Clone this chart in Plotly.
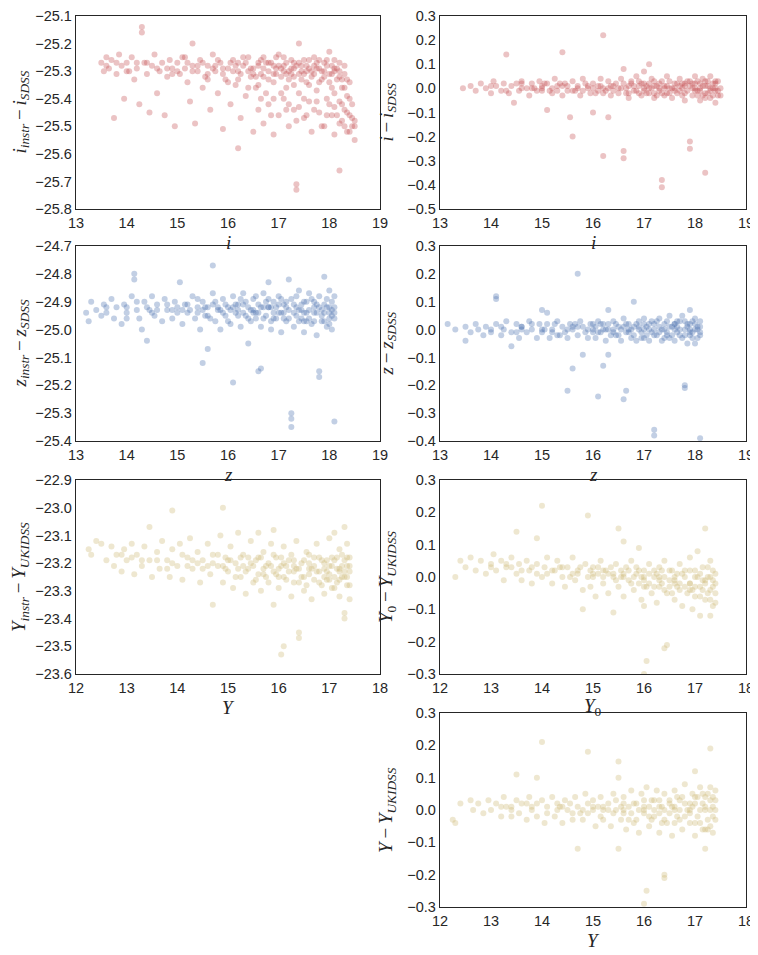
import plotly.graph_objects as go

# the page keeps its 8px body margin, so the figure starts 8px in
PAGE_W, PAGE_H, PAD = 758, 955, 8
W, H = PAGE_W - PAD, PAGE_H - PAD

# (magnitude, offset) pairs
i_instr_pts = [
    (13.5, -25.27), (13.55, -25.30), (13.6, -25.25), (13.65, -25.29), (13.7, -25.26), (13.75, -25.47),
    (13.8, -25.31), (13.85, -25.24), (13.9, -25.28), (13.95, -25.40), (14.0, -25.27), (14.05, -25.30),
    (14.1, -25.25), (14.15, -25.33), (14.2, -25.29), (14.25, -25.42), (14.3, -25.14), (14.3, -25.16),
    (14.35, -25.27), (14.4, -25.31), (14.45, -25.45), (14.5, -25.28), (14.55, -25.24), (14.6, -25.38),
    (14.65, -25.30), (14.7, -25.27), (14.75, -25.46), (14.8, -25.32), (14.85, -25.26), (14.9, -25.29),
    (14.95, -25.50), (15.0, -25.27), (15.05, -25.31), (15.1, -25.25), (15.15, -25.29), (15.2, -25.34),
    (15.25, -25.41), (15.3, -25.20), (15.3, -25.28), (15.35, -25.49), (15.4, -25.30), (15.45, -25.26),
    (15.5, -25.36), (15.55, -25.32), (15.6, -25.28), (15.65, -25.44), (15.7, -25.24), (15.75, -25.30),
    (15.8, -25.38), (15.85, -25.27), (15.9, -25.51), (15.95, -25.33), (16.0, -25.29), (16.05, -25.42),
    (16.1, -25.26), (16.15, -25.35), (16.2, -25.58), (16.2, -25.30), (16.25, -25.47), (16.3, -25.28),
    (16.35, -25.39), (16.4, -25.25), (16.45, -25.32), (16.5, -25.52), (16.5, -25.29), (16.55, -25.36),
    (16.6, -25.27), (16.6, -25.44), (16.65, -25.31), (16.7, -25.49), (16.7, -25.25), (16.75, -25.38),
    (16.8, -25.30), (16.8, -25.42), (16.85, -25.27), (16.9, -25.34), (16.9, -25.53), (16.95, -25.29),
    (17.0, -25.46), (17.0, -25.24), (17.05, -25.32), (17.1, -25.40), (17.1, -25.28), (17.15, -25.36),
    (17.2, -25.30), (17.2, -25.50), (17.25, -25.26), (17.3, -25.44), (17.3, -25.32), (17.35, -25.71),
    (17.35, -25.73), (17.35, -25.28), (17.4, -25.20), (17.4, -25.38), (17.45, -25.30), (17.5, -25.47),
    (17.5, -25.26), (17.55, -25.34), (17.6, -25.41), (17.6, -25.29), (17.65, -25.52), (17.7, -25.31),
    (17.7, -25.25), (17.75, -25.37), (17.8, -25.45), (17.8, -25.29), (17.85, -25.33), (17.9, -25.50),
    (17.9, -25.27), (17.95, -25.40), (18.0, -25.31), (18.0, -25.23), (18.05, -25.36), (18.05, -25.46),
    (18.1, -25.29), (18.1, -25.53), (18.15, -25.33), (18.2, -25.66), (18.2, -25.41), (18.2, -25.27),
    (18.25, -25.36), (18.25, -25.48), (18.3, -25.31), (18.3, -25.44), (18.35, -25.52), (18.35, -25.39),
    (18.4, -25.46), (18.4, -25.34), (18.45, -25.50), (18.45, -25.42), (18.5, -25.48), (18.5, -25.55),
    (13.6, -25.28), (14.0, -25.30), (14.4, -25.27), (14.8, -25.29), (15.2, -25.27), (15.6, -25.31),
    (15.9, -25.29), (16.2, -25.27), (16.4, -25.30), (16.7, -25.32), (16.9, -25.28), (17.1, -25.30),
    (17.3, -25.29), (17.5, -25.31), (17.7, -25.28), (17.9, -25.32), (18.1, -25.30), (18.3, -25.28),
    (15.5, -25.27), (15.6, -25.33), (15.7, -25.29), (15.8, -25.26), (15.9, -25.31), (16.0, -25.34),
    (16.1, -25.30), (16.2, -25.33), (16.3, -25.25), (16.4, -25.36), (16.5, -25.31), (16.6, -25.28),
    (16.65, -25.40), (16.75, -25.27), (16.8, -25.33), (16.85, -25.46), (16.95, -25.31), (17.0, -25.28),
    (17.05, -25.38), (17.1, -25.25), (17.15, -25.31), (17.2, -25.42), (17.25, -25.29), (17.3, -25.35),
    (17.35, -25.48), (17.4, -25.27), (17.45, -25.33), (17.5, -25.40), (17.55, -25.28), (17.6, -25.35),
    (17.65, -25.30), (17.7, -25.44), (17.75, -25.27), (17.8, -25.34), (17.85, -25.50), (17.9, -25.30),
    (17.95, -25.26), (18.0, -25.42), (18.0, -25.34), (18.05, -25.28), (18.1, -25.38), (18.15, -25.46),
    (18.15, -25.29), (18.2, -25.32), (18.25, -25.42), (18.3, -25.36), (18.3, -25.50), (18.35, -25.45),
    (18.4, -25.40), (18.4, -25.52), (18.45, -25.47), (18.5, -25.50), (14.2, -25.27), (14.6, -25.29),
    (15.0, -25.30), (15.4, -25.28), (13.8, -25.27), (14.9, -25.31), (15.15, -25.25), (16.05, -25.27),
    (16.15, -25.28), (16.25, -25.31), (16.35, -25.27), (16.45, -25.29), (16.55, -25.32), (16.65, -25.26),
    (16.7, -25.29), (16.8, -25.27), (16.9, -25.31), (16.95, -25.25), (17.05, -25.29), (17.15, -25.27),
    (17.2, -25.33), (17.25, -25.31), (17.3, -25.27), (17.4, -25.31), (17.45, -25.28), (17.55, -25.30),
    (17.6, -25.26), (17.65, -25.32), (17.75, -25.29), (17.8, -25.26), (17.85, -25.30), (17.95, -25.28),
    (18.05, -25.31), (18.1, -25.26), (18.2, -25.30), (18.25, -25.33), (17.15, -25.44), (17.4, -25.43),
    (17.55, -25.46), (17.75, -25.41), (17.95, -25.46), (18.1, -25.43), (18.2, -25.49), (18.35, -25.33),
    (16.6, -25.35), (16.9, -25.40), (15.3, -25.30), (15.75, -25.28),
]

i_resid_pts = [
    (13.45, 0.00), (13.6, 0.01), (13.7, -0.01), (13.8, 0.02), (13.9, 0.00), (14.0, -0.02), (14.05, 0.03),
    (14.1, 0.01), (14.2, -0.01), (14.25, 0.02), (14.3, 0.14), (14.35, -0.02), (14.4, 0.01), (14.45, -0.06),
    (14.5, 0.02), (14.55, -0.01), (14.6, 0.03), (14.7, 0.00), (14.75, -0.03), (14.8, 0.02), (14.9, -0.01),
    (14.95, 0.03), (15.0, 0.00), (15.1, -0.09), (15.1, 0.02), (15.2, -0.02), (15.25, 0.04), (15.3, 0.01),
    (15.4, 0.15), (15.4, -0.03), (15.45, 0.02), (15.5, -0.01), (15.55, -0.12), (15.6, 0.03), (15.6, -0.20),
    (15.7, 0.00), (15.75, -0.03), (15.8, 0.04), (15.9, 0.01), (15.95, -0.02), (16.0, -0.10), (16.0, 0.02),
    (16.1, -0.01), (16.15, 0.04), (16.2, 0.22), (16.2, -0.28), (16.2, 0.00), (16.3, -0.12), (16.3, 0.03),
    (16.35, -0.03), (16.4, 0.01), (16.5, -0.02), (16.55, 0.04), (16.6, 0.08), (16.6, -0.26), (16.6, -0.29),
    (16.65, 0.00), (16.7, -0.04), (16.75, 0.02), (16.8, -0.01), (16.85, 0.05), (16.9, 0.01), (16.95, -0.03),
    (17.0, 0.07), (17.0, 0.02), (17.05, -0.02), (17.1, 0.10), (17.1, 0.00), (17.15, 0.04), (17.2, -0.04),
    (17.25, 0.01), (17.3, -0.01), (17.35, -0.38), (17.35, -0.41), (17.35, 0.03), (17.4, -0.03), (17.45, 0.05),
    (17.5, 0.00), (17.55, -0.04), (17.6, 0.02), (17.65, -0.02), (17.7, 0.04), (17.75, 0.00), (17.8, -0.05),
    (17.85, 0.03), (17.9, -0.22), (17.9, -0.25), (17.9, 0.01), (17.95, -0.03), (18.0, 0.05), (18.05, -0.01),
    (18.1, 0.02), (18.1, -0.05), (18.15, 0.04), (18.2, -0.35), (18.2, -0.02), (18.25, 0.01), (18.3, 0.05),
    (18.3, -0.04), (18.35, 0.02), (18.4, -0.01), (18.4, -0.06), (18.45, 0.03), (18.5, 0.00),
    (14.6, 0.00), (15.0, 0.01), (15.3, -0.01), (15.7, 0.01), (16.0, 0.00), (16.4, -0.01), (16.7, 0.01),
    (17.0, -0.01), (17.2, 0.01), (17.4, 0.00), (17.6, -0.01), (17.8, 0.01), (18.0, -0.01), (18.2, 0.01),
    (18.4, 0.00),
    (14.0, 0.01), (14.3, -0.01), (14.6, 0.02), (14.85, 0.00), (15.05, 0.02), (15.15, -0.01), (15.35, 0.02),
    (15.5, 0.01), (15.65, -0.01), (15.85, 0.02), (16.05, -0.02), (16.15, 0.01), (16.25, -0.01), (16.45, 0.02),
    (16.55, 0.00), (16.65, -0.02), (16.75, 0.03), (16.85, -0.01), (16.95, 0.02), (17.05, 0.01), (17.1, -0.02),
    (17.15, 0.00), (17.25, -0.03), (17.3, 0.02), (17.4, 0.01), (17.45, -0.02), (17.5, 0.03), (17.55, 0.00),
    (17.65, 0.02), (17.7, -0.01), (17.75, -0.03), (17.8, 0.02), (17.85, -0.01), (17.95, 0.02), (18.0, 0.00),
    (18.05, 0.03), (18.1, -0.01), (18.15, -0.03), (18.2, 0.03), (18.25, -0.02), (18.3, 0.00), (18.35, -0.03),
    (18.4, 0.03), (18.45, -0.01), (18.5, -0.03), (17.2, 0.03), (16.9, -0.02), (16.3, 0.00), (15.8, -0.01),
    (15.2, 0.00),
    (15.9, 0.00), (16.1, 0.01), (16.2, -0.02), (16.35, 0.01), (16.5, 0.00), (16.6, 0.02), (16.7, -0.02),
    (16.8, 0.01), (16.9, 0.03), (17.0, 0.00), (17.1, 0.02), (17.2, -0.02), (17.3, 0.00), (17.35, -0.02),
    (17.45, 0.01), (17.5, -0.02), (17.6, 0.00), (17.7, 0.01), (17.75, 0.02), (17.8, -0.02), (17.9, 0.03),
    (17.95, 0.00), (18.0, 0.02), (18.05, -0.03), (18.1, 0.00), (18.15, 0.01), (18.2, -0.04), (18.25, 0.03),
    (18.3, -0.01), (18.35, 0.00), (18.4, 0.02), (18.45, -0.03), (15.0, -0.01), (15.4, 0.01), (14.8, 0.00),
    (15.6, -0.01),
]

z_instr_pts = [
    (13.2, -24.94), (13.25, -24.97), (13.3, -24.90), (13.4, -24.93), (13.5, -24.95), (13.55, -24.91),
    (13.6, -24.94), (13.7, -24.89), (13.75, -24.96), (13.8, -24.92), (13.9, -24.98), (13.95, -24.91),
    (14.0, -24.94), (14.1, -24.88), (14.15, -24.80), (14.15, -24.82), (14.2, -24.93), (14.25, -24.96),
    (14.3, -25.00), (14.35, -24.90), (14.4, -25.04), (14.45, -24.93), (14.5, -24.88), (14.55, -24.95),
    (14.6, -24.91), (14.7, -24.97), (14.75, -24.89), (14.8, -24.93), (14.9, -24.96), (14.95, -24.90),
    (15.0, -24.94), (15.05, -24.83), (15.1, -24.98), (15.15, -24.91), (15.2, -24.94), (15.3, -24.88),
    (15.35, -24.96), (15.4, -24.92), (15.45, -25.00), (15.5, -25.12), (15.5, -24.90), (15.55, -24.95),
    (15.6, -25.07), (15.6, -24.92), (15.7, -24.77), (15.7, -24.87), (15.75, -24.97), (15.8, -24.93),
    (15.85, -25.00), (15.9, -24.89), (15.95, -24.95), (16.0, -24.92), (16.05, -24.98), (16.1, -25.19),
    (16.1, -24.88), (16.15, -24.94), (16.2, -24.91), (16.25, -24.99), (16.3, -24.87), (16.35, -24.95),
    (16.4, -25.05), (16.4, -24.92), (16.45, -24.97), (16.5, -24.89), (16.55, -24.94), (16.6, -25.15),
    (16.6, -24.91), (16.65, -25.14), (16.65, -24.99), (16.7, -24.87), (16.75, -24.95), (16.8, -24.83),
    (16.8, -24.92), (16.85, -25.00), (16.9, -24.90), (16.95, -24.96), (17.0, -24.88), (17.0, -24.94),
    (17.05, -25.01), (17.1, -24.91), (17.15, -24.97), (17.2, -24.82), (17.2, -24.93), (17.25, -25.30),
    (17.25, -25.32), (17.25, -25.35), (17.25, -24.89), (17.3, -24.99), (17.35, -24.92), (17.4, -24.86),
    (17.45, -24.96), (17.5, -24.90), (17.5, -25.01), (17.55, -24.94), (17.6, -24.87), (17.65, -24.98),
    (17.7, -24.92), (17.75, -25.02), (17.8, -25.15), (17.8, -25.17), (17.8, -24.88), (17.85, -24.95),
    (17.9, -24.81), (17.9, -24.91), (17.95, -24.99), (18.0, -24.86), (18.0, -24.94), (18.05, -25.00),
    (18.05, -24.90), (18.1, -25.33), (18.1, -24.96), (18.1, -24.88),
    (14.0, -24.92), (14.6, -24.93), (15.0, -24.92), (15.4, -24.94), (15.8, -24.92), (16.2, -24.93),
    (16.5, -24.94), (16.8, -24.92), (17.1, -24.94), (17.4, -24.93), (17.7, -24.94), (18.0, -24.92),
    (15.25, -24.93), (15.4, -24.89), (15.55, -24.92), (15.65, -24.96), (15.75, -24.90), (15.9, -24.94),
    (16.0, -24.97), (16.1, -24.92), (16.2, -24.95), (16.3, -24.91), (16.4, -24.96), (16.5, -24.93),
    (16.55, -24.88), (16.65, -24.92), (16.7, -24.96), (16.8, -24.89), (16.9, -24.94), (16.95, -24.92),
    (17.05, -24.89), (17.1, -24.96), (17.15, -24.92), (17.3, -24.94), (17.35, -24.88), (17.4, -24.97),
    (17.45, -24.91), (17.55, -24.97), (17.6, -24.93), (17.65, -24.89), (17.7, -24.97), (17.75, -24.91),
    (17.85, -24.93), (17.9, -24.97), (17.95, -24.89), (18.0, -24.98), (18.05, -24.93), (18.1, -24.92),
    (14.2, -24.90), (14.5, -24.94), (14.8, -24.91), (15.1, -24.93), (14.0, -24.96), (13.6, -24.92),
    (16.25, -24.89), (16.85, -24.97), (17.5, -24.94),
    (15.5, -24.93), (15.6, -24.95), (15.7, -24.91), (15.85, -24.93), (15.95, -24.91), (16.05, -24.93),
    (16.15, -24.91), (16.3, -24.94), (16.35, -24.90), (16.45, -24.93), (16.55, -24.96), (16.6, -24.94),
    (16.7, -24.92), (16.75, -24.90), (16.85, -24.92), (16.9, -24.96), (17.0, -24.91), (17.05, -24.94),
    (17.15, -24.90), (17.2, -24.96), (17.3, -24.91), (17.35, -24.95), (17.45, -24.93), (17.5, -24.97),
    (17.55, -24.90), (17.6, -24.96), (17.7, -24.90), (17.75, -24.94), (17.8, -24.92), (17.85, -24.97),
    (17.9, -24.94), (17.95, -24.92), (18.0, -24.96), (18.05, -24.95), (18.1, -24.94), (14.4, -24.92),
    (14.9, -24.93), (15.2, -24.91),
]

z_resid_pts = [
    (13.15, 0.02), (13.3, 0.00), (13.5, 0.01), (13.5, -0.04), (13.6, -0.01), (13.7, 0.02), (13.75, 0.00),
    (13.85, -0.02), (13.9, 0.01), (14.0, -0.01), (14.1, 0.11), (14.1, 0.12), (14.1, 0.02), (14.2, -0.02),
    (14.25, 0.00), (14.3, 0.03), (14.4, -0.06), (14.4, -0.01), (14.5, 0.02), (14.55, -0.03), (14.6, 0.01),
    (14.7, -0.01), (14.75, 0.03), (14.8, 0.00), (14.9, -0.03), (14.95, 0.02), (15.0, 0.07), (15.0, -0.01),
    (15.1, 0.06), (15.1, 0.02), (15.15, -0.03), (15.2, 0.00), (15.3, 0.03), (15.35, -0.02), (15.4, 0.01),
    (15.5, -0.22), (15.5, -0.03), (15.55, 0.02), (15.6, -0.14), (15.6, 0.00), (15.7, 0.20), (15.7, -0.02),
    (15.75, 0.03), (15.8, -0.09), (15.8, 0.01), (15.9, -0.03), (15.95, 0.02), (16.0, 0.00), (16.05, -0.03),
    (16.1, -0.24), (16.1, 0.03), (16.15, -0.01), (16.2, -0.13), (16.2, 0.02), (16.25, -0.04), (16.3, 0.07),
    (16.3, -0.09), (16.3, 0.00), (16.4, 0.03), (16.45, -0.02), (16.5, 0.01), (16.55, -0.04), (16.6, -0.25),
    (16.6, 0.04), (16.65, -0.22), (16.65, -0.01), (16.7, 0.02), (16.75, -0.03), (16.8, 0.10), (16.8, 0.01),
    (16.85, -0.04), (16.9, 0.03), (16.95, -0.01), (17.0, 0.04), (17.0, -0.03), (17.05, 0.01), (17.1, -0.04),
    (17.15, 0.03), (17.2, -0.36), (17.2, -0.38), (17.2, 0.00), (17.25, -0.02), (17.3, 0.04), (17.35, -0.04),
    (17.4, 0.02), (17.45, -0.01), (17.5, 0.05), (17.5, -0.03), (17.55, 0.01), (17.6, -0.04), (17.65, 0.03),
    (17.7, -0.02), (17.75, 0.05), (17.8, -0.20), (17.8, -0.21), (17.8, 0.00), (17.85, -0.05), (17.9, 0.07),
    (17.9, 0.02), (17.95, -0.03), (18.0, 0.04), (18.0, -0.05), (18.05, 0.01), (18.1, -0.39), (18.1, -0.02),
    (18.1, 0.03),
    (14.0, 0.00), (14.6, 0.00), (15.2, -0.01), (15.6, 0.01), (16.0, -0.01), (16.4, 0.00), (16.7, -0.01),
    (17.0, 0.00), (17.3, 0.01), (17.6, 0.00), (17.9, -0.01),
    (14.2, 0.01), (14.5, -0.01), (14.8, 0.02), (15.05, 0.00), (15.25, 0.02), (15.45, -0.01), (15.65, 0.02),
    (15.85, -0.01), (16.05, 0.01), (16.15, 0.02), (16.25, 0.00), (16.35, -0.02), (16.45, 0.02), (16.55, 0.00),
    (16.65, 0.02), (16.75, 0.00), (16.85, 0.02), (16.95, -0.03), (17.05, -0.02), (17.1, 0.02), (17.15, -0.01),
    (17.25, 0.03), (17.35, 0.00), (17.4, -0.03), (17.45, 0.03), (17.55, -0.02), (17.6, 0.02), (17.65, -0.01),
    (17.7, 0.03), (17.75, -0.03), (17.85, 0.02), (17.9, -0.02), (17.95, 0.03), (18.0, 0.00), (18.05, -0.03),
    (18.1, 0.01), (15.3, -0.02), (16.9, 0.00), (17.2, 0.02), (17.8, 0.03),
    (15.5, 0.00), (15.7, 0.01), (15.9, 0.00), (16.0, 0.02), (16.1, -0.01), (16.2, 0.00), (16.3, 0.02),
    (16.4, -0.01), (16.5, -0.02), (16.6, 0.01), (16.7, 0.00), (16.8, -0.02), (16.9, 0.01), (17.0, 0.02),
    (17.1, 0.00), (17.2, -0.02), (17.3, -0.01), (17.4, 0.00), (17.5, 0.01), (17.6, 0.02), (17.7, 0.00),
    (17.8, -0.02), (17.9, 0.00), (18.0, 0.02), (18.05, 0.00), (18.1, -0.01), (17.45, -0.02), (17.65, 0.01),
    (17.85, 0.01), (17.95, -0.01), (14.6, 0.01), (15.0, 0.00),
]

y_instr_pts = [
    (12.25, -23.15), (12.3, -23.17), (12.4, -23.12), (12.5, -23.13), (12.6, -23.19), (12.7, -23.14),
    (12.75, -23.21), (12.8, -23.17), (12.9, -23.23), (12.95, -23.15), (13.0, -23.19), (13.1, -23.13),
    (13.15, -23.24), (13.2, -23.17), (13.3, -23.21), (13.35, -23.14), (13.45, -23.07), (13.45, -23.19),
    (13.5, -23.25), (13.6, -23.16), (13.65, -23.22), (13.7, -23.12), (13.8, -23.19), (13.85, -23.25),
    (13.9, -23.01), (13.9, -23.15), (14.0, -23.21), (14.05, -23.13), (14.1, -23.26), (14.2, -23.18),
    (14.25, -23.11), (14.3, -23.22), (14.4, -23.16), (14.45, -23.27), (14.5, -23.19), (14.6, -23.13),
    (14.65, -23.24), (14.7, -23.35), (14.7, -23.17), (14.8, -23.21), (14.85, -23.10), (14.9, -23.00),
    (14.9, -23.27), (14.95, -23.18), (15.0, -23.23), (15.05, -23.14), (15.1, -23.29), (15.15, -23.20),
    (15.2, -23.09), (15.25, -23.25), (15.3, -23.17), (15.35, -23.31), (15.4, -23.22), (15.45, -23.12),
    (15.5, -23.27), (15.55, -23.19), (15.6, -23.09), (15.6, -23.24), (15.65, -23.30), (15.7, -23.16),
    (15.75, -23.21), (15.8, -23.27), (15.85, -23.13), (15.9, -23.08), (15.9, -23.35), (15.9, -23.23),
    (15.95, -23.18), (16.0, -23.29), (16.05, -23.53), (16.05, -23.21), (16.1, -23.50), (16.1, -23.14),
    (16.15, -23.26), (16.2, -23.19), (16.25, -23.32), (16.3, -23.23), (16.35, -23.12), (16.4, -23.45),
    (16.4, -23.47), (16.4, -23.27), (16.45, -23.20), (16.5, -23.30), (16.55, -23.16), (16.6, -23.24),
    (16.65, -23.33), (16.7, -23.21), (16.75, -23.13), (16.8, -23.27), (16.85, -23.19), (16.9, -23.31),
    (16.95, -23.23), (17.0, -23.11), (17.0, -23.26), (17.05, -23.18), (17.1, -23.29), (17.1, -23.09),
    (17.15, -23.22), (17.2, -23.15), (17.2, -23.32), (17.25, -23.25), (17.3, -23.07), (17.3, -23.38),
    (17.3, -23.40), (17.3, -23.19), (17.35, -23.28), (17.35, -23.13), (17.4, -23.23), (17.4, -23.33),
    (13.3, -23.19), (13.9, -23.20), (14.4, -23.20), (14.9, -23.21), (15.3, -23.21), (15.7, -23.22),
    (16.0, -23.22), (16.3, -23.21), (16.6, -23.22), (16.9, -23.22), (17.2, -23.23),
    (14.8, -23.17), (14.95, -23.22), (15.05, -23.19), (15.15, -23.25), (15.25, -23.18), (15.35, -23.23),
    (15.45, -23.20), (15.55, -23.26), (15.65, -23.18), (15.75, -23.25), (15.85, -23.21), (15.95, -23.24),
    (16.05, -23.18), (16.1, -23.25), (16.15, -23.21), (16.25, -23.17), (16.3, -23.27), (16.35, -23.22),
    (16.45, -23.25), (16.5, -23.19), (16.55, -23.28), (16.6, -23.20), (16.7, -23.26), (16.75, -23.23),
    (16.8, -23.18), (16.85, -23.28), (16.9, -23.20), (16.95, -23.26), (17.0, -23.21), (17.05, -23.29),
    (17.1, -23.19), (17.15, -23.27), (17.2, -23.22), (17.25, -23.17), (17.3, -23.25), (17.35, -23.21),
    (17.4, -23.18), (17.4, -23.28), (13.6, -23.19), (14.1, -23.17), (14.3, -23.19), (14.6, -23.21),
    (13.1, -23.18), (12.9, -23.17),
    (15.5, -23.21), (15.6, -23.18), (15.7, -23.24), (15.8, -23.20), (15.9, -23.17), (16.0, -23.25),
    (16.1, -23.20), (16.2, -23.23), (16.3, -23.19), (16.4, -23.22), (16.5, -23.25), (16.6, -23.17),
    (16.65, -23.22), (16.7, -23.18), (16.8, -23.23), (16.9, -23.25), (16.95, -23.19), (17.0, -23.24),
    (17.05, -23.21), (17.1, -23.25), (17.15, -23.18), (17.2, -23.26), (17.25, -23.21), (17.3, -23.23),
    (17.35, -23.25), (17.35, -23.18), (17.4, -23.21), (14.5, -23.22), (14.7, -23.20), (15.0, -23.19),
    (15.2, -23.22), (15.4, -23.18), (13.8, -23.22), (14.2, -23.21),
]

y0_resid_pts = [
    (12.3, 0.00), (12.4, 0.05), (12.5, 0.03), (12.6, 0.06), (12.7, 0.02), (12.8, 0.05), (12.9, 0.01),
    (13.0, 0.04), (13.05, 0.07), (13.1, 0.02), (13.2, 0.05), (13.25, -0.01), (13.3, 0.03), (13.4, 0.06),
    (13.5, 0.14), (13.5, 0.01), (13.55, 0.04), (13.6, -0.01), (13.7, 0.05), (13.75, 0.02), (13.8, -0.02),
    (13.9, 0.12), (13.9, 0.04), (14.0, 0.22), (14.0, 0.00), (14.05, 0.03), (14.1, 0.06), (14.2, -0.02),
    (14.25, 0.02), (14.3, 0.05), (14.4, 0.00), (14.45, -0.03), (14.5, 0.03), (14.6, 0.06), (14.65, -0.01),
    (14.7, 0.02), (14.8, -0.10), (14.8, -0.04), (14.85, 0.04), (14.9, 0.19), (14.9, 0.00), (14.95, -0.03),
    (15.0, 0.03), (15.05, -0.06), (15.1, 0.01), (15.15, 0.05), (15.2, -0.02), (15.25, 0.02), (15.3, -0.05),
    (15.4, -0.11), (15.4, 0.01), (15.45, 0.04), (15.5, 0.15), (15.5, -0.03), (15.55, 0.00), (15.6, 0.11),
    (15.6, -0.06), (15.65, 0.03), (15.7, -0.01), (15.75, 0.05), (15.8, -0.04), (15.85, 0.01), (15.9, 0.09),
    (15.9, -0.02), (15.95, -0.07), (16.0, -0.09), (16.0, -0.30), (16.0, 0.02), (16.05, -0.26), (16.05, -0.03),
    (16.1, 0.04), (16.15, -0.05), (16.2, 0.00), (16.25, -0.08), (16.3, 0.03), (16.35, -0.02), (16.4, -0.22),
    (16.4, 0.05), (16.45, -0.21), (16.45, -0.05), (16.5, -0.01), (16.55, 0.02), (16.6, -0.07), (16.65, -0.03),
    (16.7, 0.04), (16.75, -0.09), (16.8, 0.00), (16.85, -0.05), (16.9, 0.06), (16.9, -0.02), (16.95, -0.10),
    (17.0, 0.02), (17.0, -0.06), (17.05, 0.08), (17.1, -0.03), (17.1, -0.12), (17.15, 0.03), (17.2, 0.15),
    (17.2, -0.07), (17.25, 0.00), (17.3, -0.12), (17.3, 0.05), (17.3, -0.04), (17.35, -0.09), (17.35, 0.02),
    (17.4, -0.02),
    (13.0, 0.03), (13.6, 0.02), (14.2, 0.02), (14.7, 0.01), (15.2, 0.00), (15.6, 0.00), (16.0, -0.01),
    (16.3, -0.01), (16.6, -0.02), (16.9, -0.02), (17.2, -0.02),
    (13.3, 0.04), (13.8, 0.03), (14.1, 0.01), (14.35, 0.03), (14.55, 0.00), (14.75, 0.03), (15.0, 0.00),
    (15.1, 0.03), (15.3, 0.01), (15.45, -0.01), (15.55, 0.02), (15.7, 0.02), (15.8, 0.00), (15.9, 0.02),
    (16.0, -0.03), (16.1, 0.01), (16.2, -0.03), (16.3, 0.00), (16.4, -0.04), (16.5, 0.02), (16.6, -0.01),
    (16.7, -0.04), (16.75, 0.01), (16.8, -0.03), (16.9, 0.02), (17.0, -0.03), (17.05, 0.00), (17.1, -0.06),
    (17.15, -0.01), (17.25, 0.03), (17.3, -0.07), (17.35, -0.01), (17.4, 0.01), (17.4, -0.05), (16.95, -0.04),
    (16.55, -0.05), (16.25, 0.01), (15.95, 0.00), (15.35, 0.03), (14.95, 0.02),
    (15.0, 0.01), (15.2, 0.02), (15.4, 0.00), (15.6, 0.01), (15.75, -0.02), (15.85, 0.03), (16.0, 0.00),
    (16.1, -0.02), (16.2, 0.02), (16.3, -0.03), (16.4, 0.00), (16.5, -0.03), (16.6, 0.00), (16.7, -0.02),
    (16.8, 0.02), (16.9, -0.04), (17.0, 0.00), (17.1, 0.01), (17.15, -0.04), (17.2, -0.01), (17.25, -0.05),
    (17.3, 0.00), (17.35, -0.03), (17.4, -0.08), (16.65, 0.01), (16.35, 0.02), (14.4, 0.03), (14.6, 0.01),
    (13.9, 0.01), (13.4, 0.03),
]

y_resid_pts = [
    (12.25, -0.03), (12.3, -0.04), (12.4, 0.02), (12.6, 0.03), (12.65, 0.00), (12.75, 0.02), (12.85, -0.01),
    (12.95, 0.03), (13.0, 0.00), (13.1, 0.02), (13.2, -0.02), (13.25, 0.04), (13.3, 0.01), (13.4, -0.02),
    (13.5, 0.11), (13.5, 0.03), (13.55, -0.01), (13.6, 0.02), (13.7, -0.03), (13.75, 0.04), (13.8, 0.00),
    (13.9, 0.10), (13.9, -0.02), (14.0, 0.21), (14.0, 0.03), (14.05, -0.04), (14.1, 0.01), (14.2, 0.04),
    (14.25, -0.02), (14.3, 0.02), (14.4, -0.04), (14.45, 0.03), (14.5, 0.00), (14.6, -0.03), (14.65, 0.04),
    (14.7, -0.12), (14.7, 0.01), (14.8, -0.03), (14.85, 0.05), (14.9, 0.18), (14.9, -0.01), (15.0, 0.03),
    (15.05, -0.05), (15.1, 0.01), (15.15, 0.04), (15.2, -0.03), (15.3, 0.02), (15.35, -0.05), (15.4, 0.05),
    (15.45, 0.00), (15.5, 0.15), (15.5, 0.10), (15.5, -0.12), (15.55, -0.03), (15.6, 0.04), (15.65, -0.06),
    (15.7, 0.01), (15.75, 0.06), (15.8, -0.04), (15.85, 0.02), (15.9, -0.07), (15.95, 0.05), (16.0, -0.29),
    (16.0, -0.01), (16.05, -0.25), (16.05, 0.07), (16.1, -0.05), (16.15, 0.03), (16.2, -0.02), (16.25, 0.06),
    (16.3, -0.07), (16.35, 0.01), (16.4, -0.20), (16.4, -0.21), (16.4, 0.05), (16.45, -0.04), (16.5, 0.02),
    (16.55, -0.08), (16.6, 0.06), (16.65, -0.02), (16.7, 0.03), (16.75, -0.06), (16.8, 0.08), (16.85, 0.00),
    (16.9, -0.04), (16.95, 0.05), (17.0, 0.12), (17.0, -0.08), (17.0, 0.02), (17.05, -0.02), (17.1, 0.07),
    (17.15, -0.06), (17.2, -0.12), (17.2, 0.04), (17.25, -0.03), (17.3, 0.19), (17.3, 0.07), (17.3, -0.05),
    (17.35, 0.01), (17.35, -0.07), (17.4, 0.03),
    (13.2, 0.01), (13.8, 0.01), (14.3, 0.00), (14.8, 0.00), (15.2, 0.00), (15.6, -0.01), (16.0, 0.00),
    (16.3, -0.01), (16.6, 0.00), (16.9, 0.00), (17.2, 0.00),
    (13.4, 0.01), (13.7, 0.02), (14.1, -0.01), (14.35, 0.01), (14.55, 0.02), (14.75, -0.01), (15.0, 0.00),
    (15.15, -0.02), (15.3, 0.00), (15.45, 0.03), (15.55, 0.01), (15.7, -0.03), (15.8, 0.02), (15.9, 0.00),
    (16.0, 0.03), (16.1, 0.01), (16.2, 0.03), (16.3, 0.01), (16.4, -0.03), (16.5, -0.01), (16.6, -0.04),
    (16.7, 0.00), (16.75, 0.04), (16.8, -0.02), (16.9, 0.02), (17.0, -0.04), (17.05, 0.04), (17.1, 0.00),
    (17.15, 0.02), (17.2, -0.06), (17.25, 0.05), (17.3, 0.00), (17.35, 0.04), (17.4, -0.03), (17.4, 0.06),
    (16.95, 0.01), (16.55, 0.01), (16.15, -0.03), (15.6, 0.00), (14.9, 0.02),
    (15.0, 0.01), (15.2, 0.01), (15.4, -0.01), (15.6, 0.02), (15.75, -0.01), (15.85, -0.03), (16.0, 0.01),
    (16.1, -0.02), (16.2, 0.00), (16.3, 0.03), (16.4, 0.00), (16.5, 0.03), (16.6, 0.01), (16.7, -0.03),
    (16.8, 0.02), (16.9, -0.01), (17.0, 0.04), (17.1, -0.04), (17.15, 0.05), (17.2, 0.01), (17.25, -0.06),
    (17.3, 0.03), (17.35, -0.02), (17.4, 0.00), (16.65, 0.04), (16.35, -0.04), (14.4, 0.01), (14.6, -0.01),
    (13.9, 0.02), (13.4, 0.00),
]

RED, BLUE, GOLD = "#C44E52", "#4C72B0", "#CCB974"
INK = "#262626"

# panel boxes in page pixels: columns (left, right, y-title x), rows (top, bottom)
LEFT = (76, 380, 20)
RIGHT = (440, 746, 387)
ROWS = [(16, 209), (246, 441), (480, 674), (713, 907)]

# n, points, colour, column, row, x range, y range, x title, y title
panels = [
    (1, i_instr_pts, RED, LEFT, 0, [13, 19], [-25.8, -25.1], "<i>i</i>",
     "<i>i<sub>instr</sub></i>\u2009−\u2009<i>i<sub>SDSS</sub></i>"),
    (2, i_resid_pts, RED, RIGHT, 0, [13, 19], [-0.5, 0.3], "<i>i</i>",
     "<i>i</i>\u2009−\u2009<i>i<sub>SDSS</sub></i>"),
    (3, z_instr_pts, BLUE, LEFT, 1, [13, 19], [-25.4, -24.7], "<i>z</i>",
     "<i>z<sub>instr</sub></i>\u2009−\u2009<i>z<sub>SDSS</sub></i>"),
    (4, z_resid_pts, BLUE, RIGHT, 1, [13, 19], [-0.4, 0.3], "<i>z</i>",
     "<i>z</i>\u2009−\u2009<i>z<sub>SDSS</sub></i>"),
    (5, y_instr_pts, GOLD, LEFT, 2, [12, 18], [-23.6, -22.9], "<i>Y</i>",
     "<i>Y<sub>instr</sub></i>\u2009−\u2009<i>Y<sub>UKIDSS</sub></i>"),
    (6, y0_resid_pts, GOLD, RIGHT, 2, [12, 18], [-0.3, 0.3], "<i>Y</i><sub>0</sub>",
     "<i>Y</i><sub>0</sub>\u2009−\u2009<i>Y<sub>UKIDSS</sub></i>"),
    (7, y_resid_pts, GOLD, RIGHT, 3, [12, 18], [-0.3, 0.3], "<i>Y</i>",
     "<i>Y</i>\u2009−\u2009<i>Y<sub>UKIDSS</sub></i>"),
]


def px(x):
    return (x - PAD) / W


def py(y):
    return 1 - (y - PAD) / H


fig = go.Figure()
layout = {}
notes = []
title_font = dict(family="Liberation Serif, DejaVu Serif", size=19, color=INK)
for n, pts, color, col, row, xr, yr, xt, yt in panels:
    sfx = "" if n == 1 else str(n)
    xs, ys = zip(*pts)
    fig.add_trace(go.Scatter(
        x=xs, y=ys, mode="markers", xaxis="x" + sfx, yaxis="y" + sfx,
        marker=dict(color=color, size=6, opacity=0.34, line=dict(width=0)),
        showlegend=False, hoverinfo="skip",
    ))
    top, bottom = ROWS[row]
    common = dict(
        showline=True, mirror=True, linecolor=INK, linewidth=1.3,
        showgrid=False, zeroline=False, ticks="", automargin=False,
        ticklabeloverflow="allow",
        tickfont=dict(family="Liberation Sans, Arial", size=14.5, color=INK),
    )
    layout["xaxis" + sfx] = dict(
        domain=[px(col[0]), px(col[1])], range=xr, dtick=1, tick0=0,
        anchor="y" + sfx, **common,
    )
    layout["yaxis" + sfx] = dict(
        domain=[py(bottom), py(top)], range=yr, dtick=0.1, tick0=0,
        tickformat=".1f", anchor="x" + sfx, **common,
    )
    notes.append(dict(
        text=xt, x=px((col[0] + col[1]) / 2), y=py(bottom + 33),
        xref="paper", yref="paper", showarrow=False, font=title_font,
        xanchor="center", yanchor="middle",
    ))
    notes.append(dict(
        text=yt, x=px(col[2]), y=py((top + bottom) / 2),
        xref="paper", yref="paper", showarrow=False, font=title_font,
        textangle=-90, xanchor="center", yanchor="middle",
    ))

fig.update_layout(
    template="none",
    width=W, height=H,
    margin=dict(l=0, r=0, t=0, b=0, autoexpand=False),
    paper_bgcolor="white", plot_bgcolor="white",
    annotations=notes,
    **layout,
)

fig.write_html("out.html")
